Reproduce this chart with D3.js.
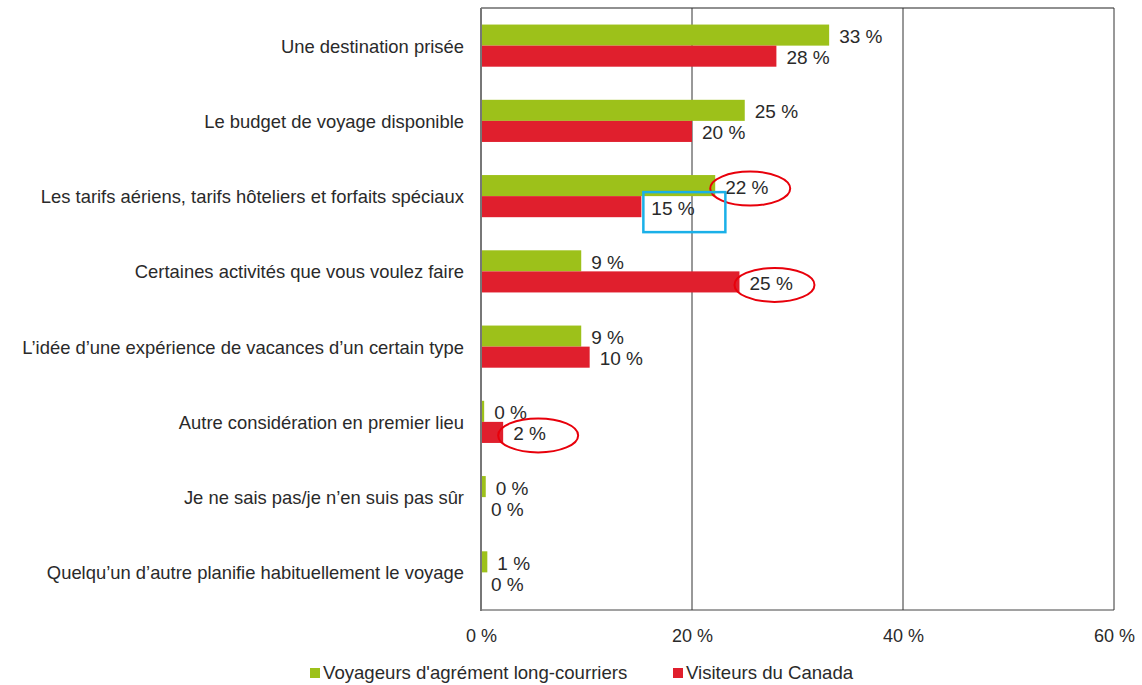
<!DOCTYPE html>
<html>
<head>
<meta charset="utf-8">
<script src="https://cdn.jsdelivr.net/npm/d3@7"></script>
<style>
  body { margin: 0; background: #fff; }
  svg { display: block; }
</style>
</head>
<body>
<script>
'use strict';

// chart data
const categories = [
  "Une destination prisée",
  "Le budget de voyage disponible",
  "Les tarifs aériens, tarifs hôteliers et forfaits spéciaux",
  "Certaines activités que vous voulez faire",
  "L’idée d’une expérience de vacances d’un certain type",
  "Autre considération en premier lieu",
  "Je ne sais pas/je n’en suis pas sûr",
  "Quelqu’un d’autre planifie habituellement le voyage"
];
const seriesNames = ["Voyageurs d'agrément long-courriers", "Visiteurs du Canada"];
const longHaul = [33, 25, 22.2, 9.5, 9.5, 0.3, 0.45, 0.6];
const canada = [28, 20, 15.2, 24.5, 10.3, 2.1, 0, 0];
const longHaulLabels = ["33 %", "25 %", "22 %", "9 %", "9 %", "0 %", "0 %", "1 %"];
const canadaLabels = ["28 %", "20 %", "15 %", "25 %", "10 %", "2 %", "0 %", "0 %"];
const xTicks = [0, 20, 40, 60];

// highlight marks drawn on the source picture (category index, series index)
const circled = [[2, 0], [3, 1], [5, 1]];
const boxed = [[2, 1]];

(function() {
  const colors = ["#9dc11a", "#e01f2d"];
  const font = "'Liberation Sans', Arial, sans-serif";
  const textColor = '#2a2a2a';

  const svg = d3.select('body')
    .append('svg')
    .attr('width', 1142)
    .attr('height', 685)
    .style('font-family', font);

  const plotLeft = 481, plotRight = 1114, plotTop = 8, plotBottom = 610;

  const x = d3.scaleLinear().domain([0, 60]).range([plotLeft, plotRight]);
  const y = d3.scaleBand().domain(categories).range([plotTop, plotBottom])
    .paddingInner(0.44).paddingOuter(0.22);
  const sub = d3.scaleBand().domain([0, 1]).range([0, y.bandwidth()]);

  // frame and grid lines
  svg.append('line')
    .attr('x1', plotLeft).attr('x2', plotRight).attr('y1', plotTop).attr('y2', plotTop)
    .attr('stroke', '#222').attr('stroke-width', 1.2);
  svg.append('line')
    .attr('x1', plotLeft).attr('x2', plotRight).attr('y1', plotBottom).attr('y2', plotBottom)
    .attr('stroke', '#444').attr('stroke-width', 1);
  svg.selectAll('.grid')
    .data(xTicks.slice(1))
    .enter()
    .append('line')
      .attr('class', 'grid')
      .attr('x1', d => x(d)).attr('x2', d => x(d))
      .attr('y1', plotTop).attr('y2', plotBottom)
      .attr('stroke', '#333').attr('stroke-width', 1);

  // x axis labels
  const xAxis = d3.axisBottom(x).tickValues(xTicks)
    .tickFormat(d => d + " %").tickSize(0).tickPadding(19);
  const gx = svg.append('g')
    .attr('transform', `translate(0, ${plotBottom})`)
    .call(xAxis);
  gx.select('.domain').remove();
  gx.selectAll('text')
    .style('font-family', font)
    .style('font-size', '18px')
    .attr('fill', textColor);

  // category labels
  const yAxis = d3.axisLeft(y).tickSize(0).tickPadding(17);
  const gy = svg.append('g')
    .attr('transform', `translate(${plotLeft}, 1)`)
    .call(yAxis);
  gy.select('.domain').remove();
  gy.selectAll('text')
    .style('font-family', font)
    .style('font-size', '18.4px')
    .attr('fill', textColor);

  // bars and value labels
  const series = [longHaul, canada];
  const labels = [longHaulLabels, canadaLabels];
  series.forEach((vals, s) => {
    svg.selectAll('.bar' + s)
      .data(vals)
      .enter()
      .append('rect')
        .attr('class', 'bar' + s)
        .attr('x', x(0))
        .attr('y', (d, i) => y(categories[i]) + sub(s))
        .attr('width', d => x(d) - x(0))
        .attr('height', sub.bandwidth())
        .attr('fill', colors[s]);

    svg.selectAll('.lbl' + s)
      .data(vals)
      .enter()
      .append('text')
        .attr('class', 'lbl' + s)
        .attr('x', d => x(d) + 10)
        .attr('y', (d, i) => y(categories[i]) + sub(s) + sub.bandwidth() / 2 + 3)
        .attr('dominant-baseline', 'middle')
        .style('font-size', '19px')
        .attr('fill', textColor)
        .text((d, i) => labels[s][i]);
  });

  // left axis line drawn over bars
  svg.append('line')
    .attr('x1', plotLeft).attr('x2', plotLeft).attr('y1', plotTop).attr('y2', plotBottom + 1)
    .attr('stroke', '#777').attr('stroke-width', 2);

  // red ellipses around some labels
  svg.selectAll('.ring')
    .data(circled)
    .enter()
    .append('ellipse')
      .attr('cx', d => x(series[d[1]][d[0]]) + 35)
      .attr('cy', d => y(categories[d[0]]) + sub(d[1]) + sub.bandwidth() / 2 + 3)
      .attr('rx', 40)
      .attr('ry', 17)
      .attr('fill', 'none')
      .attr('stroke', '#e8000b')
      .attr('stroke-width', 2);

  // blue box around a label
  svg.selectAll('.box')
    .data(boxed)
    .enter()
    .append('rect')
      .attr('x', d => x(series[d[1]][d[0]]) + 2)
      .attr('y', d => y(categories[d[0]]) + sub(d[1]) - 4)
      .attr('width', 82)
      .attr('height', 40)
      .attr('fill', 'none')
      .attr('stroke', '#1ab0e8')
      .attr('stroke-width', 2.5);

  // legend
  const legendX = [310, 673];
  const legend = svg.selectAll('.legend')
    .data(seriesNames)
    .enter()
    .append('g')
      .attr('transform', (d, i) => `translate(${legendX[i]}, 668)`);
  legend.append('rect')
    .attr('width', 10).attr('height', 10)
    .attr('fill', (d, i) => colors[i]);
  legend.append('text')
    .attr('x', 13).attr('y', 6)
    .attr('dominant-baseline', 'middle')
    .style('font-size', '18.6px')
    .attr('fill', textColor)
    .text(d => d);
})();
</script>
</body>
</html>
